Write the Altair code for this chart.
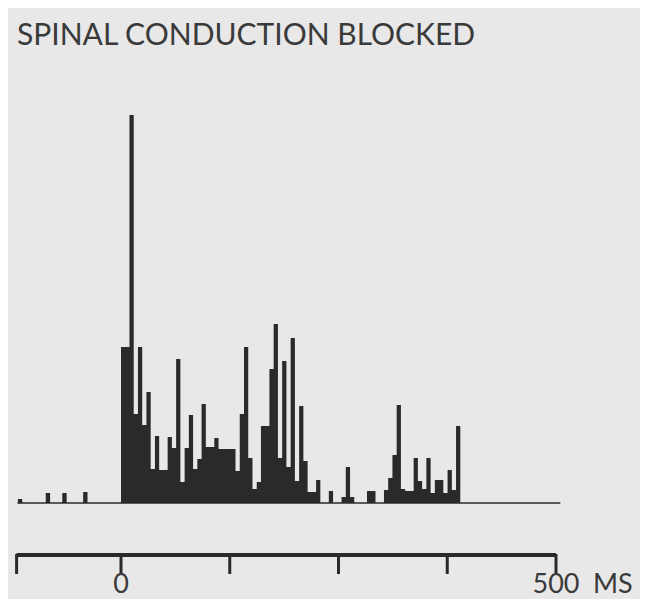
import altair as alt
import pandas as pd

# ---- data (counts in arbitrary units) ----
title_text = "SPINAL CONDUCTION BLOCKED"

pre_ms = [-116, -84, -65, -41]
pre_counts = [4, 10, 10, 11]

post_counts = [
    156, 156, 388, 89, 156, 78, 111, 34, 67, 33,
    33, 66, 55, 144, 21, 55, 88, 34, 44, 99,
    56, 56, 65, 54, 54, 54, 54, 32, 89, 156,
    45, 14, 21, 77, 77, 134, 179, 45, 142, 36,
    165, 22, 97, 42, 11, 11, 23, 0, 0, 12,
    0, 0, 6, 36, 6, 0, 0, 0, 12, 12,
    0, 0, 13, 25, 48, 98, 14, 12, 12, 45,
    22, 14, 45, 10, 23, 23, 10, 33, 13, 77,
]
post_span_ms = 390
baseline_range_ms = [-119, 505]
scale_ticks_ms = [-120, 0, 125, 250, 375, 500]
tick_labels = ["0", "500"]
tick_label_ms = [0, 500]
unit_label = "MS"

# ---- tables ----
bin_w = post_span_ms / len(post_counts)
post_step = pd.DataFrame({
    "start": [i * bin_w for i in range(len(post_counts))] + [post_span_ms],
    "count": post_counts + [0],
})
pre = pd.DataFrame({
    "start": [m - 2.5 for m in pre_ms],
    "end": [m + 2.5 for m in pre_ms],
    "count": pre_counts,
})

base = pd.DataFrame({"a": [baseline_range_ms[0]], "b": [baseline_range_ms[1]]})
sbar = pd.DataFrame({"a": [scale_ticks_ms[0]], "b": [scale_ticks_ms[-1]]})
ticks = pd.DataFrame({"t": scale_ticks_ms})
labels = pd.DataFrame({"t": tick_label_ms, "label": tick_labels})
unit = pd.DataFrame({"t": [tick_label_ms[-1]], "label": [unit_label]})

W, H = 632, 591
px_per_ms = 0.87
zero_px = 113
xs = alt.Scale(domain=[-zero_px / px_per_ms, (W - zero_px) / px_per_ms], nice=False, zero=False)
ys = alt.Scale(domain=[0, 400], range=[495, 95], nice=False, zero=False)

INK = "#2a2a2a"
TXT = "#3a3a3a"
FONT = "Lato"

baseline = alt.Chart(base).mark_rule(color="#5a5a5a", strokeWidth=2).encode(
    x=alt.X("a:Q", scale=xs, axis=None),
    x2="b:Q",
    y=alt.Y(datum=0, scale=ys, axis=None),
)

hist = alt.Chart(post_step).mark_area(color=INK, interpolate="step-after", opacity=1).encode(
    x=alt.X("start:Q", scale=xs, axis=None),
    y=alt.Y("count:Q", scale=ys, axis=None),
    y2=alt.Y2(datum=0),
)

prebars = alt.Chart(pre).mark_rect(color=INK).encode(
    x=alt.X("start:Q", scale=xs, axis=None),
    x2="end:Q",
    y=alt.Y("count:Q", scale=ys, axis=None),
    y2=alt.Y2(datum=0),
)

scalebar = alt.Chart(sbar).mark_rule(color=INK, strokeWidth=4).encode(
    x=alt.X("a:Q", scale=xs, axis=None),
    x2="b:Q",
    y=alt.value(547),
)

tickmarks = alt.Chart(ticks).mark_rule(color=INK, strokeWidth=3).encode(
    x=alt.X("t:Q", scale=xs, axis=None),
    y=alt.value(546),
    y2=alt.value(566),
)

ticklabels = alt.Chart(labels).mark_text(
    font=FONT, fontSize=27, color=TXT, align="center", baseline="alphabetic"
).encode(
    x=alt.X("t:Q", scale=xs, axis=None),
    y=alt.value(585),
    text="label:N",
)

unitlabel = alt.Chart(unit).mark_text(
    font=FONT, fontSize=27, color=TXT, align="left", baseline="alphabetic", dx=37
).encode(
    x=alt.X("t:Q", scale=xs, axis=None),
    y=alt.value(585),
    text="label:N",
)

title = alt.Chart(pd.DataFrame({"s": [title_text]})).mark_text(
    font=FONT, fontSize=30, color=TXT, align="left", baseline="alphabetic"
).encode(
    x=alt.value(9),
    y=alt.value(37),
    text="s:N",
)

chart = alt.layer(baseline, hist, prebars, scalebar, tickmarks, ticklabels, unitlabel, title).properties(
    width=W, height=H, autosize=alt.AutoSizeParams(type="none"), padding=0,
    background="#e8e8e8",
).configure_view(stroke=None)

chart.save("out.html", embed_options={"renderer": "svg", "actions": False})
